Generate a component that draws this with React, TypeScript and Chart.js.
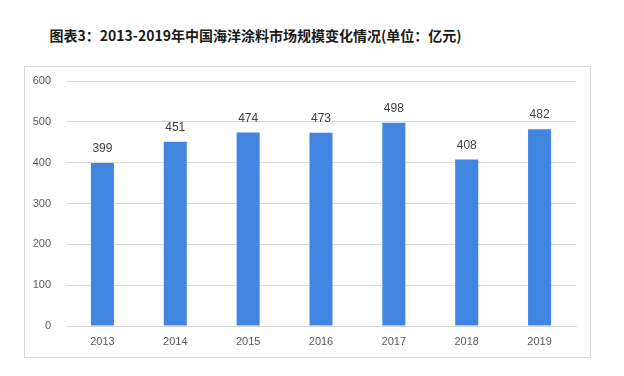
import React, { useEffect, useRef } from "react";
import { Chart, registerables } from "chart.js";

Chart.register(...registerables);

const categories = ["2013", "2014", "2015", "2016", "2017", "2018", "2019"];
const values = [399, 451, 474, 473, 498, 408, 482];
const yTicks = [0, 100, 200, 300, 400, 500, 600];
const titleText = "图表3：2013-2019年中国海洋涂料市场规模变化情况(单位：亿元)";

const labelPlugin = {
  id: "barLabels",
  afterDatasetsDraw(chart: any) {
    const ctx = chart.ctx;
    const meta = chart.getDatasetMeta(0);
    ctx.save();
    ctx.font = "12px 'Liberation Sans', 'Noto Sans', sans-serif";
    ctx.fillStyle = "#404040";
    ctx.textAlign = "center";
    ctx.textBaseline = "middle";
    meta.data.forEach((el: any, i: number) => {
      ctx.fillText(String(values[i]), el.x, el.y - 14);
    });
    ctx.restore();
  },
};

export default function App() {
  const ref = useRef<HTMLCanvasElement>(null);
  useEffect(() => {
    if (!ref.current) return;
    const chart = new Chart(ref.current, {
      type: "bar",
      data: {
        labels: categories,
        datasets: [
          {
            data: values,
            backgroundColor: "#4285e0",
            categoryPercentage: 1,
            barPercentage: 0.316,
          },
        ],
      },
      options: {
        responsive: false,
        animation: false,
        devicePixelRatio: 1,
        layout: { padding: { left: 0, right: 14, top: 14, bottom: 0 } },
        plugins: {
          legend: { display: false },
          tooltip: { enabled: false },
          title: { display: false },
        },
        scales: {
          x: {
            grid: { display: false, drawTicks: false },
            border: { color: "#d9d9d9", width: 1 },
            ticks: {
              color: "#595959",
              font: { size: 11, family: "'Liberation Sans', 'Noto Sans', sans-serif" },
              padding: 9,
            },
            afterFit: (s: any) => {
              s.height = 31;
            },
          },
          y: {
            min: 0,
            max: 600,
            afterBuildTicks: (s: any) => {
              s.ticks = yTicks.map((v) => ({ value: v }));
            },
            grid: { color: "#d9d9d9", drawTicks: false },
            border: { display: false },
            ticks: {
              color: "#595959",
              font: { size: 11, family: "'Liberation Sans', 'Noto Sans', sans-serif" },
              padding: 15,
            },
            afterFit: (s: any) => {
              s.width = 41;
              s.paddingTop = 0;
              s.paddingBottom = 0;
            },
          },
        },
      },
      plugins: [labelPlugin],
    });
    return () => chart.destroy();
  }, []);

  return (
    <div
      style={{
        position: "fixed",
        left: 0,
        top: 0,
        width: 624,
        height: 376,
        background: "#ffffff",
      }}
    >
      <div
        style={{
          position: "absolute",
          left: 0,
          width: 511,
          top: 24,
          textAlign: "center",
          font: "bold 14px 'Noto Sans CJK SC', sans-serif",
          color: "#1a1a1a",
          whiteSpace: "nowrap",
          lineHeight: "22px",
        }}
      >
        {titleText}
      </div>
      <div
        style={{
          position: "absolute",
          left: 24,
          top: 66,
          width: 565,
          height: 290,
          border: "1px solid #d9d9d9",
        }}
      >
        <canvas ref={ref} width={565} height={290} style={{ display: "block" }} />
      </div>
    </div>
  );
}
